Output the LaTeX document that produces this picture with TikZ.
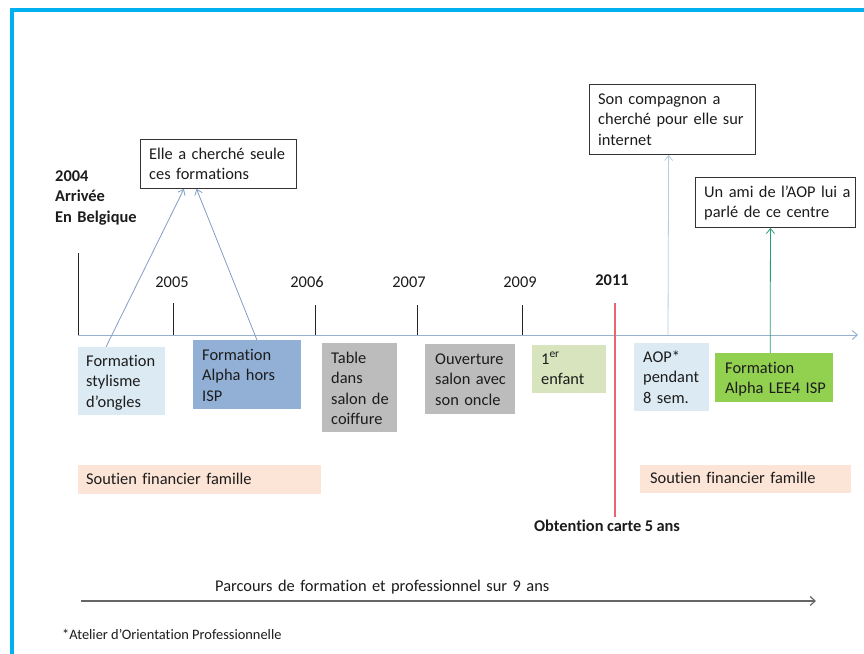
\documentclass[tikz,border=0pt]{standalone}
\usepackage{fontspec}
\setmainfont{Carlito}[Ligatures=NoCommon]
\usetikzlibrary{arrows.meta,calc}

\definecolor{framecyan}{RGB}{0,176,240}
\definecolor{axisblue}{RGB}{150,178,208}
\definecolor{linkblue}{RGB}{130,158,198}
\definecolor{aoplink}{RGB}{184,206,222}
\definecolor{leegreen}{RGB}{40,160,110}
\definecolor{cardred}{RGB}{232,100,110}
\definecolor{paleblue}{RGB}{219,234,243}
\definecolor{midblue}{RGB}{146,176,214}
\definecolor{boxgray}{RGB}{188,188,188}
\definecolor{palegreen}{RGB}{216,228,190}
\definecolor{brightgreen}{RGB}{146,208,80}
\definecolor{peach}{RGB}{252,229,214}
\definecolor{inkgray}{RGB}{28,28,28}

\newcommand\bodyfont{\fontsize{16.4}{20.5}\selectfont\spaceskip=3.4pt plus 0.5pt minus 0.3pt\relax}

\tikzset{
  x=1pt, y=-1pt,
  every node/.style={text=inkgray},
  lbl/.style={font=\bodyfont, anchor=base west,
              inner sep=0pt, align=left, text width=#1},
  lbl/.default=180pt,
  yearlbl/.style={font=\bodyfont, anchor=base, inner sep=0pt},
  card/.style={anchor=north west, inner sep=0pt, draw=none},
  callout/.style={anchor=north west, inner sep=0pt, draw=black!80, line width=0.9pt},
  tick/.style={draw=black!85, line width=0.9pt},
  link/.style={line width=0.8pt, -{Straight Barb[length=5pt,width=8pt]}},
}

\begin{document}
\begin{tikzpicture}
\useasboundingbox (0,0) rectangle (864,653);
\fill[white] (0,0) rectangle (864,653);

% outer frame, running off the page to the right and bottom
\begin{scope}
  \clip (0,0) rectangle (864,653);
  \draw[framecyan, line width=4pt] (11.5,670) -- (11.5,10) -- (880,10);
\end{scope}

% time axis and year ticks
\coordinate (axL) at (78,335);
\coordinate (axR) at (858,335);
\draw[axisblue, line width=1pt, -{Straight Barb[length=5pt,width=9pt]}] (axL) -- (axR);
\coordinate (t4) at (78,253);
\coordinate (t5) at (173,303);
\coordinate (t6) at (315,305);
\coordinate (t7) at (417,305);
\coordinate (t9) at (522,305);
\draw[tick] (t4) -- (t4 |- axL);
\draw[tick] (t5) -- (t5 |- axL);
\draw[tick] (t6) -- (t6 |- axL);
\draw[tick] (t7) -- (t7 |- axL);
\draw[tick] (t9) -- (t9 |- axL);

% 2011 marker
\coordinate (r11top) at (615,303);
\coordinate (r11bot) at (615,517);
\draw[cardred, line width=1.2pt] (r11top) -- (r11bot);

% year labels
\node[lbl=100pt, font=\bodyfont\bfseries] (y2004) at (55,181) {2004\\Arrivée\\En Belgique};
\node[yearlbl] (y2005) at (172,287) {2005};
\node[yearlbl] (y2006) at (307,287) {2006};
\node[yearlbl] (y2007) at (409,287) {2007};
\node[yearlbl] (y2009) at (520,287) {2009};
\node[yearlbl, font=\bodyfont\bfseries] (y2011) at (612,285) {2011};

% call-out boxes above the axis
\node[callout, minimum width=156pt, minimum height=49pt] (cSeule) at (140,139) {};
\node[lbl] (tSeule) at (149,159) {Elle a cherché seule\\ces formations};
\node[callout, minimum width=166pt, minimum height=70pt] (cComp) at (589,84) {};
\node[lbl] (tComp) at (598,104) {Son compagnon a\\cherché pour elle sur\\internet};
\node[callout, minimum width=160pt, minimum height=50pt] (cAmi) at (695,177) {};
\node[lbl] (tAmi) at (704,197) {Un ami de l’AOP lui a\\parlé de ce centre};

% event boxes under the axis
\node[card, fill=paleblue, minimum width=87pt, minimum height=68pt] (bSty) at (78,347) {};
\node[lbl] (tSty) at (86,366) {Formation\\stylisme\\d’ongles};
\node[card, fill=midblue, minimum width=108pt, minimum height=69pt] (bAlpha) at (193,340) {};
\node[lbl] (tAlpha) at (202,360) {Formation\\Alpha hors\\ISP};
\node[card, fill=boxgray, minimum width=75pt, minimum height=89pt] (bTable) at (322,343) {};
\node[lbl] (tTable) at (331,363) {Table\\dans\\salon de\\coiffure};
\node[card, fill=boxgray, minimum width=90pt, minimum height=70pt] (bOuv) at (425,344) {};
\node[lbl] (tOuv) at (435,364) {Ouverture\\salon avec\\son oncle};
\node[card, fill=palegreen, minimum width=74pt, minimum height=48pt] (bEnf) at (532,345) {};
\node[lbl] (tEnf) at (541,364) {1\textsuperscript{er}\\enfant};
\node[card, fill=paleblue, minimum width=75pt, minimum height=68pt] (bAop) at (634,343) {};
\node[lbl] (tAop) at (643,362) {AOP*\\pendant\\8 sem.};
\node[card, fill=brightgreen, minimum width=118pt, minimum height=49pt] (bLee) at (715,353) {};
\node[lbl] (tLee) at (725,373) {Formation\\Alpha LEE4 ISP};

% family support bands
\node[card, fill=peach, minimum width=243pt, minimum height=29pt] (bSout1) at (78,465) {};
\node[lbl] (tSout1) at (86,484) {Soutien financier famille};
\node[card, fill=peach, minimum width=211pt, minimum height=28pt] (bSout2) at (640,465) {};
\node[lbl] (tSout2) at (650,483) {Soutien financier famille};

% residence card
\node[anchor=base, inner sep=0pt, font=\bodyfont\bfseries] (tCarte) at (607,531) {Obtention carte 5 ans};

% arrows from events to call-outs
\draw[link, linkblue] ($(bSty.north west)!0.32!(bSty.north east)$) -- ($(cSeule.south west)!0.28!(cSeule.south east)$);
\draw[link, linkblue] ($(bAlpha.north west)!0.59!(bAlpha.north east)$ |- axL) -- ($(cSeule.south west)!0.36!(cSeule.south east)$);
\draw[link, aoplink] (668,335) -- ($(cComp.south west)!0.477!(cComp.south east)$ |- 0,160);
\draw[link, leegreen] ($(bLee.north west)!0.466!(bLee.north east)$) -- ($(cAmi.south west)!0.469!(cAmi.south east)$ |- 0,233);

% overall span arrow
\coordinate (spanL) at (81,601);
\coordinate (spanR) at (816,601);
\draw[black!60, line width=1.2pt, -{Straight Barb[length=5pt,width=9pt]}] (spanL) -- (spanR);
\node[lbl=400pt] (tSpan) at (215,591) {Parcours de formation et professionnel sur 9 ans};

% footnote
\node[anchor=base west, inner sep=0pt, font=\fontsize{14.4}{17}\selectfont] (tNote) at (62,639) {*Atelier d’Orientation Professionnelle};
\end{tikzpicture}
\end{document}
